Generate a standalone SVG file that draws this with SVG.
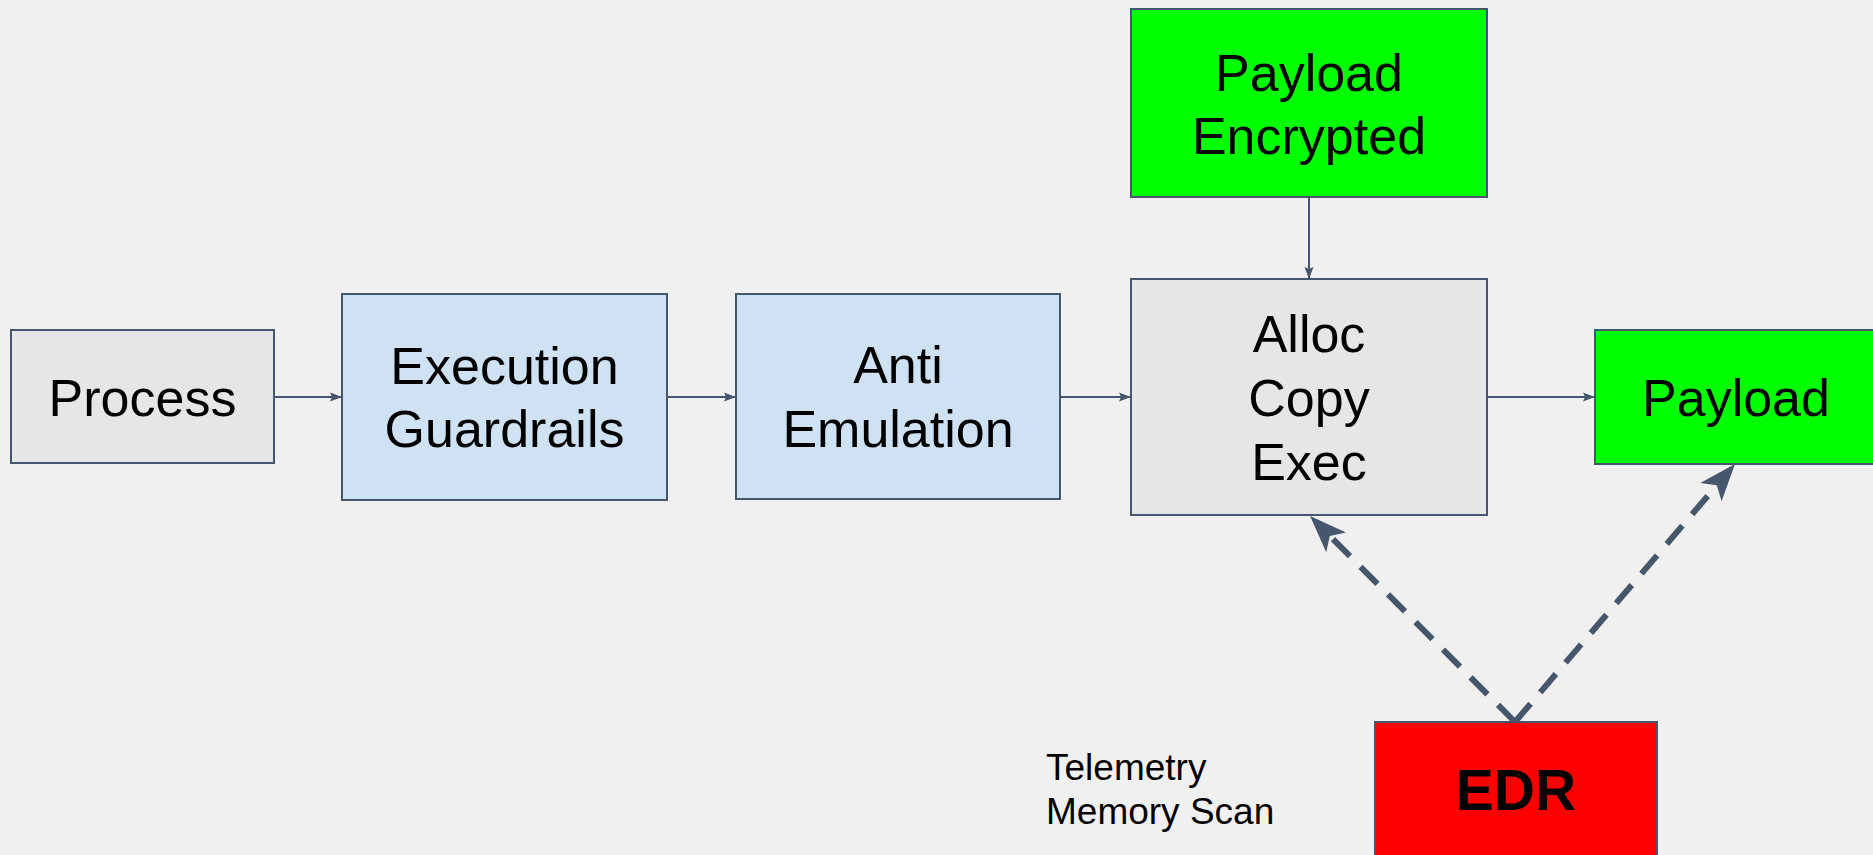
<svg xmlns="http://www.w3.org/2000/svg" width="1873" height="855" viewBox="0 0 1873 855">
  <style>
    .box { stroke: #46566c; stroke-width: 2; }
    .gray { fill: #e6e6e6; }
    .blue { fill: #cfe2f3; }
    .green { fill: #00ff00; }
    .red { fill: #ff0000; }
    .label { font-family: "Liberation Sans", Arial, sans-serif; font-size: 52px; fill: #000000; text-anchor: middle; }
    .note { font-family: "Liberation Sans", Arial, sans-serif; font-size: 37px; fill: #000000; }
    .bold { font-weight: bold; font-size: 57px; }
    .flow { stroke: #46566c; stroke-width: 2; fill: none; }
    .scan { stroke: #46566c; stroke-width: 6; fill: none; stroke-dasharray: 24 15; }
  </style>
  <defs>
    <marker id="arrow" markerUnits="userSpaceOnUse" markerWidth="14" markerHeight="12" viewBox="0 -6 14 12" refX="12" refY="0" orient="auto">
      <path d="M0,-4.5 L12,0 L0,4.5 L2,0 Z" fill="#46566c"/>
    </marker>
    <marker id="stealth" markerUnits="userSpaceOnUse" markerWidth="40" markerHeight="32" viewBox="0 -16 40 32" refX="9" refY="0" orient="auto">
      <path d="M0,-14 L37,0 L0,14 L9,0 Z" fill="#46566c"/>
    </marker>
  </defs>

  <rect width="1873" height="855" fill="#f0f0f0"/>

  <!-- connectors -->
  <g id="connectors">
    <line class="flow" x1="274" y1="397" x2="342" y2="397" marker-end="url(#arrow)"/>
    <line class="flow" x1="667" y1="397" x2="736" y2="397" marker-end="url(#arrow)"/>
    <line class="flow" x1="1060" y1="397" x2="1131" y2="397" marker-end="url(#arrow)"/>
    <line class="flow" x1="1487" y1="397" x2="1595" y2="397" marker-end="url(#arrow)"/>
    <line class="flow" x1="1309" y1="197" x2="1309" y2="279" marker-end="url(#arrow)"/>
    <line class="scan" x1="1515" y1="722" x2="1329.8" y2="535.9" marker-end="url(#stealth)"/>
    <line class="scan" x1="1515" y1="722" x2="1716.8" y2="485.3" marker-end="url(#stealth)"/>
  </g>

  <g id="process">
    <rect class="box gray" x="11" y="330" width="263" height="133"/>
    <text class="label" x="142.5" y="416">Process</text>
  </g>

  <g id="execution-guardrails">
    <rect class="box blue" x="342" y="294" width="325" height="206"/>
    <text class="label" x="504.5" y="384">Execution</text>
    <text class="label" x="504.5" y="447">Guardrails</text>
  </g>

  <g id="anti-emulation">
    <rect class="box blue" x="736" y="294" width="324" height="205"/>
    <text class="label" x="898" y="383">Anti</text>
    <text class="label" x="898" y="447">Emulation</text>
  </g>

  <g id="alloc-copy-exec">
    <rect class="box gray" x="1131" y="279" width="356" height="236"/>
    <text class="label" x="1309" y="352">Alloc</text>
    <text class="label" x="1309" y="416">Copy</text>
    <text class="label" x="1309" y="480">Exec</text>
  </g>

  <g id="payload-encrypted">
    <rect class="box green" x="1131" y="9" width="356" height="188"/>
    <text class="label" x="1309" y="91">Payload</text>
    <text class="label" x="1309" y="154">Encrypted</text>
  </g>

  <g id="payload">
    <rect class="box green" x="1595" y="330" width="290" height="134"/>
    <text class="label" x="1736" y="416">Payload</text>
  </g>

  <g id="edr">
    <rect class="box red" x="1375" y="722" width="282" height="150"/>
    <text class="label bold" x="1516" y="810">EDR</text>
  </g>

  <g id="scan-note">
    <text class="note" x="1046" y="780">Telemetry</text>
    <text class="note" x="1046" y="824">Memory Scan</text>
  </g>
</svg>
